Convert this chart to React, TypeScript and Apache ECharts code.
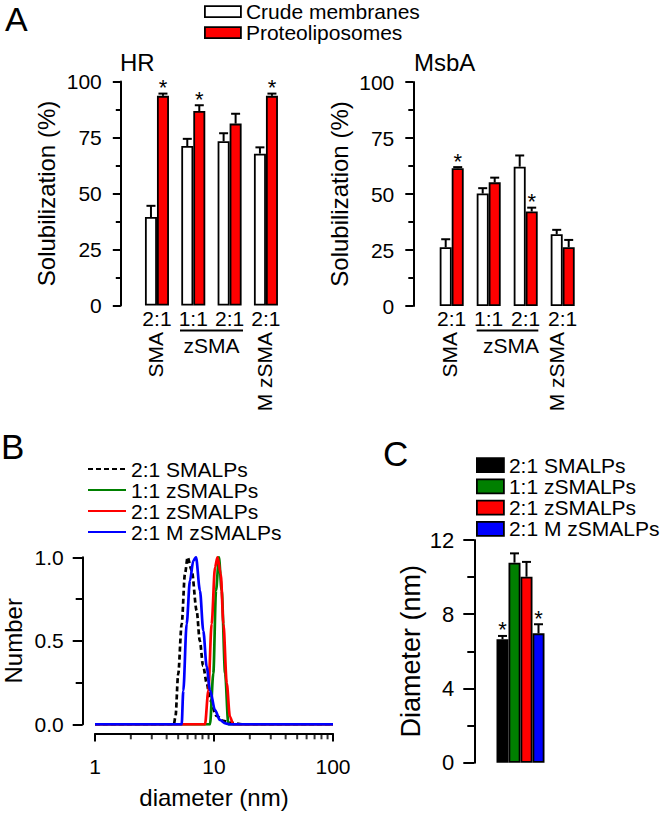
import { useEffect, useRef } from 'react';
import * as echarts from 'echarts';

const FONT = "'Liberation Sans', Arial, Helvetica, sans-serif";

// ---------- Panel A data ----------
const groupLabels = ['2:1', '1:1', '2:1', '2:1'];
const seriesNamesA = ['Crude membranes', 'Proteoliposomes'];
const hrCrude = [39.5, 71.2, 73.3, 67.8];
const hrCrudeErr = [5.0, 3.2, 3.6, 2.8];
const hrProteo = [93.6, 86.8, 81.2, 93.6];
const hrProteoErr = [1.0, 2.6, 4.4, 1.0];
const hrProteoStar = [1, 1, 0, 1];
const msbaCrude = [26.2, 50.2, 62.2, 32.0];
const msbaCrudeErr = [3.6, 2.4, 5.0, 2.0];
const msbaProteo = [61.5, 55.2, 42.2, 26.2];
const msbaProteoErr = [0.5, 2.1, 1.7, 3.3];
const msbaProteoStar = [1, 0, 1, 0];
const noStar = [0, 0, 0, 0];

// ---------- Panel B data (diameter nm, normalized number) ----------
const dlsNames = ['2:1 SMALPs', '1:1 zSMALPs', '2:1 zSMALPs', '2:1 M zSMALPs'];
const curveSMA = [
  [1, 0], [4.6, 0], [4.75, 0.05], [5.0, 0.3], [5.35, 0.6], [5.7, 0.9], [6.0, 1.0], [6.5, 0.92],
  [7.15, 0.68], [7.6, 0.5], [8.1, 0.35], [8.7, 0.245], [9.25, 0.145], [10.5, 0.05], [12, 0.02],
  [13.6, 0.01], [17.5, 0], [100, 0],
];
const curveZ11 = [
  [1, 0], [9.25, 0], [9.87, 0.305], [10.4, 0.8], [11.0, 1.0], [11.6, 0.8], [12.4, 0.305], [13.2, 0], [100, 0],
];
const curveZ21 = [
  [1, 0], [8.4, 0], [8.96, 0.2], [9.55, 0.6], [10.2, 0.94], [10.7, 1.0], [11.4, 0.9], [12.0, 0.6],
  [12.8, 0.245], [13.6, 0.046], [14.5, 0], [100, 0],
];
const curveM = [
  [1, 0], [5.35, 0], [5.52, 0.2], [5.89, 0.6], [6.28, 0.86], [6.7, 0.98], [7.06, 1.0], [7.62, 0.8],
  [8.13, 0.56], [8.68, 0.345], [9.25, 0.205], [10.2, 0.085], [11.2, 0.026], [12.5, 0.005], [13.5, 0], [100, 0],
];
const minorTicksB = [2, 3, 4, 5, 6, 7, 8, 9, 20, 30, 40, 50, 60, 70, 80, 90];

// ---------- Panel C data ----------
const diamValues = [6.65, 10.78, 10.02, 6.97];
const diamErr = [0.18, 0.5, 0.8, 0.49];
const diamStar = [1, 0, 0, 1];

const colorsC = ['#000000', '#008000', '#ff0000', '#0000ff'];

function errData(values: number[], errs: number[], stars: number[], side: number) {
  return values.map((v, i) => [i, v, errs[i], side, stars[i]]);
}

function makeErrRender(barW: number) {
  return (_params: any, api: any) => {
    const i = api.value(0);
    const v = api.value(1);
    const e = api.value(2);
    const side = api.value(3);
    const star = api.value(4);
    const p0 = api.coord([i, v]);
    const p1 = api.coord([i, v + e]);
    const x = p0[0] + side * barW;
    const children: any[] = [
      { type: 'line', shape: { x1: x, y1: p0[1], x2: x, y2: p1[1] }, style: { stroke: '#000', lineWidth: 2 } },
      { type: 'line', shape: { x1: x - 4.5, y1: p1[1], x2: x + 4.5, y2: p1[1] }, style: { stroke: '#000', lineWidth: 2 } },
    ];
    if (star) {
      children.push({
        type: 'text', x, y: p1[1] - 6,
        style: { text: '*', fontSize: 22, fontFamily: FONT, fill: '#000', textAlign: 'center', textVerticalAlign: 'middle' },
      });
    }
    return { type: 'group', children };
  };
}

const txt = (text: string, x: number, y: number, size: number, extra: any = {}, rotation = 0) => ({
  type: 'text', x, y, rotation,
  style: { text, fontSize: size, fontFamily: FONT, fill: '#000', textAlign: 'left', textVerticalAlign: 'middle', ...extra },
});

const axisLineStyle = { show: true, onZero: false, lineStyle: { color: '#000', width: 2 } };

function yAxisA(gridIndex: number, offset: number) {
  return {
    type: 'value', gridIndex, min: 0, max: 100, interval: 25, offset,
    name: 'Solubilization (%)', nameLocation: 'middle', nameGap: 62,
    nameTextStyle: { fontSize: 24, color: '#000', fontFamily: FONT },
    axisLine: axisLineStyle,
    axisTick: { show: true, length: 8, lineStyle: { color: '#000', width: 2 } },
    minorTick: { show: true, splitNumber: 2, length: 5, lineStyle: { color: '#000', width: 2 } },
    axisLabel: { fontSize: 21, color: '#000', margin: 19, fontFamily: FONT },
    splitLine: { show: false },
  };
}

function xAxisA(gridIndex: number) {
  return {
    type: 'category', gridIndex, data: groupLabels,
    axisLine: { show: false, onZero: false }, axisTick: { show: false },
    axisLabel: { fontSize: 21, color: '#000', margin: 2, fontFamily: FONT, interval: 0 },
    splitLine: { show: false },
  };
}

function barA(name: string, xIdx: number, data: number[], color: string) {
  return {
    type: 'bar', name, xAxisIndex: xIdx, yAxisIndex: xIdx, data, barWidth: 12, barGap: '0%',
    itemStyle: { color, borderColor: '#000', borderWidth: 1.8 },
  };
}

export default function App() {
  const ref = useRef<HTMLDivElement>(null);
  useEffect(() => {
    if (!ref.current) return;
    const chart = echarts.init(ref.current, undefined, { renderer: 'svg' });
    const curves = [curveSMA, curveZ11, curveZ21, curveM];
    const lineSeries = dlsNames.map((n, k) => ({
      type: 'line', name: n, xAxisIndex: 2, yAxisIndex: 2, data: curves[k], symbol: 'none',
      smooth: 0.3, smoothMonotone: 'x',
      lineStyle: { color: colorsC[k], width: 2.7, type: k === 0 ? [5, 3] : 'solid' },
      itemStyle: { color: colorsC[k] },
      z: 2 + k,
    }));
    const barC = dlsNames.map((n, k) => ({
      type: 'bar', name: 'C:' + n, xAxisIndex: 3, yAxisIndex: 3,
      data: [diamValues[k]], barWidth: 12, barGap: '0%',
      itemStyle: { color: colorsC[k], borderColor: '#000', borderWidth: 1.8 },
    }));
    const option: any = {
      animation: false,
      textStyle: { fontFamily: FONT, color: '#000' },
      grid: [
        { left: 138.8, top: 81.5, width: 145.3, height: 224 },
        { left: 433.2, top: 82, width: 148, height: 224 },
        { left: 95, top: 557.3, width: 238, height: 167 },
        { left: 496, top: 540, width: 49, height: 222.7 },
      ],
      legend: [
        {
          data: seriesNamesA, left: 204, top: 1.2, orient: 'vertical', padding: 0, itemGap: 0,
          itemWidth: 36, itemHeight: 11, icon: 'rect', selectedMode: false, symbolKeepAspect: false,
          itemStyle: { borderColor: '#000', borderWidth: 1.8 },
          textStyle: { fontSize: 21, color: '#000', fontFamily: FONT, lineHeight: 20.3 },
        },
        {
          data: dlsNames, left: 87, top: 458.6, orient: 'vertical', padding: 0, itemGap: 0,
          itemWidth: 38, itemHeight: 14, selectedMode: false,
          itemStyle: { opacity: 0 },
          textStyle: { fontSize: 21, color: '#000', fontFamily: FONT, lineHeight: 20.8 },
        },
        {
          data: dlsNames.map((n) => 'C:' + n), left: 476, top: 454.4, orient: 'vertical', padding: 0, itemGap: 0,
          itemWidth: 27, itemHeight: 14, icon: 'rect', selectedMode: false, symbolKeepAspect: false,
          formatter: (name: string) => name.replace(/^C:/, ''),
          itemStyle: { borderColor: '#000', borderWidth: 1.8 },
          textStyle: { fontSize: 21, color: '#000', fontFamily: FONT, lineHeight: 21.3 },
        },
      ],
      xAxis: [
        xAxisA(0),
        xAxisA(1),
        {
          type: 'log', logBase: 10, gridIndex: 2, min: 1, max: 100, position: 'bottom', offset: 9.2,
          name: 'diameter (nm)', nameLocation: 'middle', nameGap: 52,
          nameTextStyle: { fontSize: 24, color: '#000', fontFamily: FONT },
          axisLine: axisLineStyle,
          axisTick: { show: true, length: 8, lineStyle: { color: '#000', width: 2 } },
          axisLabel: { fontSize: 21, color: '#000', margin: 22, fontFamily: FONT },
          splitLine: { show: false },
        },
        {
          type: 'category', gridIndex: 3, data: [''],
          axisLine: { show: false, onZero: false }, axisTick: { show: false }, axisLabel: { show: false },
        },
      ],
      yAxis: [
        yAxisA(0, 18),
        yAxisA(1, 19.9),
        {
          type: 'value', gridIndex: 2, min: 0, max: 1, interval: 0.5, offset: 12.3,
          name: 'Number', nameLocation: 'middle', nameGap: 57,
          nameTextStyle: { fontSize: 24, color: '#000', fontFamily: FONT },
          axisLine: axisLineStyle,
          axisTick: { show: true, length: 10, lineStyle: { color: '#000', width: 2 } },
          minorTick: { show: true, splitNumber: 2, length: 7, lineStyle: { color: '#000', width: 2 } },
          axisLabel: { fontSize: 21, color: '#000', margin: 19, fontFamily: FONT, formatter: (v: number) => v.toFixed(1) },
          splitLine: { show: false },
        },
        {
          type: 'value', gridIndex: 3, min: 0, max: 12, interval: 4, offset: 21.7,
          name: 'Diameter (nm)', nameLocation: 'middle', nameGap: 50,
          nameTextStyle: { fontSize: 27, color: '#000', fontFamily: FONT },
          axisLine: axisLineStyle,
          axisTick: { show: true, length: 11, lineStyle: { color: '#000', width: 2 } },
          minorTick: { show: true, splitNumber: 2, length: 7, lineStyle: { color: '#000', width: 2 } },
          axisLabel: { fontSize: 22, color: '#000', margin: 20, fontFamily: FONT },
          splitLine: { show: false },
        },
      ],
      series: [
        barA(seriesNamesA[0], 0, hrCrude, '#ffffff'),
        barA(seriesNamesA[1], 0, hrProteo, '#ff0000'),
        {
          type: 'custom', xAxisIndex: 0, yAxisIndex: 0, renderItem: makeErrRender(12), encode: { x: 0, y: 1 },
          data: [...errData(hrCrude, hrCrudeErr, noStar, -0.5), ...errData(hrProteo, hrProteoErr, hrProteoStar, 0.5)], z: 5,
        },
        barA(seriesNamesA[0], 1, msbaCrude, '#ffffff'),
        barA(seriesNamesA[1], 1, msbaProteo, '#ff0000'),
        {
          type: 'custom', xAxisIndex: 1, yAxisIndex: 1, renderItem: makeErrRender(12), encode: { x: 0, y: 1 },
          data: [...errData(msbaCrude, msbaCrudeErr, noStar, -0.5), ...errData(msbaProteo, msbaProteoErr, msbaProteoStar, 0.5)], z: 5,
        },
        ...lineSeries,
        {
          // minor ticks of the log diameter axis (at 2..9, 20..90), hung below the offset axis line
          type: 'scatter', xAxisIndex: 2, yAxisIndex: 2, clip: false, silent: true,
          data: minorTicksB.map((v) => [v, 0]),
          symbol: 'rect', symbolSize: [2, 6], symbolOffset: [0, 12],
          itemStyle: { color: '#000000' }, z: 10,
        },
        ...barC,
        {
          type: 'custom', xAxisIndex: 3, yAxisIndex: 3, renderItem: makeErrRender(12), encode: { x: 0, y: 1 },
          data: diamValues.map((v, k) => [0, v, diamErr[k], k - 1.5, diamStar[k]]), z: 5,
        },
      ],
      graphic: [
        txt('A', 5, 19, 34),
        txt('B', 1, 446, 35),
        txt('C', 383, 453, 35),
        txt('HR', 120, 62, 24),
        txt('MsbA', 414, 62, 24),
        txt('SMA', 155.5, 332, 21, { textAlign: 'right' }, Math.PI / 2),
        { type: 'line', shape: { x1: 180, y1: 330.5, x2: 243, y2: 330.5 }, style: { stroke: '#000', lineWidth: 2 } },
        txt('zSMA', 211.6, 345, 21, { textAlign: 'center' }),
        txt('M zSMA', 264, 332, 21, { textAlign: 'right' }, Math.PI / 2),
        txt('SMA', 449, 332, 21, { textAlign: 'right' }, Math.PI / 2),
        { type: 'line', shape: { x1: 476.7, y1: 330.5, x2: 538.3, y2: 330.5 }, style: { stroke: '#000', lineWidth: 2 } },
        txt('zSMA', 511, 345, 21, { textAlign: 'center' }),
        txt('M zSMA', 556, 332, 21, { textAlign: 'right' }, Math.PI / 2),
      ],
    };
    chart.setOption(option);
    return () => chart.dispose();
  }, []);
  return <div ref={ref} style={{ position: 'absolute', left: 0, top: 0, width: 660, height: 813, background: '#fff' }} />;
}
